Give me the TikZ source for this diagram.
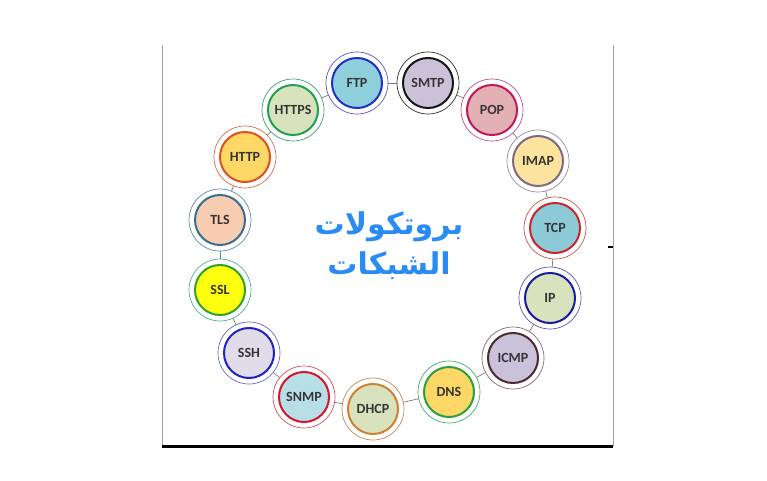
\documentclass[tikz,border=0pt]{standalone}
\usepackage{fontspec}
\setmainfont{Carlito}
\newfontfamily\arabicfont[Script=Arabic]{DejaVu Sans}
\TeXXeTstate=1
\definecolor{txt}{HTML}{353535}
\definecolor{conn}{HTML}{7A7A7A}
\definecolor{frame}{HTML}{A0A0A0}
\definecolor{title}{HTML}{2A8CF2}
\tikzset{
  outerc/.style={circle, minimum size=62pt, inner sep=0pt, fill=white, line width=0.7pt},
  innerc/.style={circle, minimum size=50pt, inner sep=0pt, line width=2pt, font=\bfseries\fontsize{14}{16}\selectfont, text=txt},
  connline/.style={draw=conn, line width=0.7pt},
}
\newcommand{\protonode}[7]{%
  \definecolor{#1colo}{HTML}{#4}%
  \definecolor{#1coli}{HTML}{#5}%
  \definecolor{#1colf}{HTML}{#6}%
  \node[outerc, draw=#1colo] (#1) at (#2,#3) {};
  \node[innerc, draw=#1coli, fill=#1colf] (#1i) at (#1) {#7};
}
\begin{document}
\begin{tikzpicture}[x=1pt,y=-1pt]
\useasboundingbox (0,0) rectangle (767,481);
% frame
\coordinate (tl) at (162,45);
\coordinate (bl) at (162,446);
\coordinate (tr) at (613,45);
\coordinate (br) at (613,446);
\coordinate (tk1) at (608,247);
\coordinate (tk2) at (613,247);
\draw[draw=frame, line width=0.9pt] (tl) -- (bl);
\draw[draw=frame, line width=0.9pt] (tr) -- (br);
\draw[draw=black, line width=3pt] (bl) -- (br);
\draw[draw=black, line width=2pt] (tk1) -- (tk2);
% connectors first (drawn under nodes)
\foreach \a/\b/\ax/\ay/\bx/\by in {
  FTP/SMTP/357/83/428/83, SMTP/POP/428/83/492/110, POP/IMAP/492/110/538/161,
  IMAP/TCP/538/161/555/228, TCP/IP/555/228/550/298, IP/ICMP/550/298/513/358,
  ICMP/DNS/513/358/449/392, DNS/DHCP/449/392/373/409, DHCP/SNMP/373/409/304/397,
  SNMP/SSH/304/397/249/353, SSH/SSL/249/353/220/290, SSL/TLS/220/290/220/220,
  TLS/HTTP/220/220/245/157, HTTP/HTTPS/245/157/293/110, HTTPS/FTP/293/110/357/83}
  { \coordinate (c\a) at (\ax,\ay); \coordinate (d\b) at (\bx,\by); \draw[connline] (c\a) -- (d\b); }
% protocol circles
\protonode{FTP}{357}{83}{5A5ABF}{1F2FC8}{8FCFDC}{FTP}
\protonode{SMTP}{428}{83}{303030}{151515}{CBC2DA}{SMTP}
\protonode{POP}{492}{110}{C0508A}{C0185A}{E3B0B4}{POP}
\protonode{IMAP}{538}{161}{9A8A9E}{7E6A82}{FCE49E}{IMAP}
\protonode{TCP}{555}{228}{D05050}{C8262C}{8DCAD8}{TCP}
\protonode{IP}{550}{298}{5A5AB8}{1A1AA0}{D8E3BE}{IP}
\protonode{ICMP}{513}{358}{8A6A6A}{4A2A2E}{CAC2DA}{ICMP}
\protonode{DNS}{449}{392}{4AAA6A}{2CA03A}{FDD866}{DNS}
\protonode{DHCP}{373}{409}{C08A5A}{D08030}{D8E3BE}{DHCP}
\protonode{SNMP}{304}{397}{D05060}{D0182A}{B8DEE8}{SNMP}
\protonode{SSH}{249}{353}{6A6AC0}{2222C0}{E0DCEA}{SSH}
\protonode{SSL}{220}{290}{50B090}{30A030}{FFFF10}{SSL}
\protonode{TLS}{220}{220}{5A90A8}{3A6E8A}{F8CCB0}{TLS}
\protonode{HTTP}{245}{157}{D07050}{E0501E}{FDD866}{HTTP}
\protonode{HTTPS}{293}{110}{40A070}{20A050}{D8E3BE}{HTTPS}
% title
\node[font=\arabicfont\bfseries\fontsize{30}{40}\selectfont, text=title, align=center] (title) at (389,246) {\beginR بروتكولات\endR\\\beginR الشبكات\endR};
\end{tikzpicture}
\end{document}
